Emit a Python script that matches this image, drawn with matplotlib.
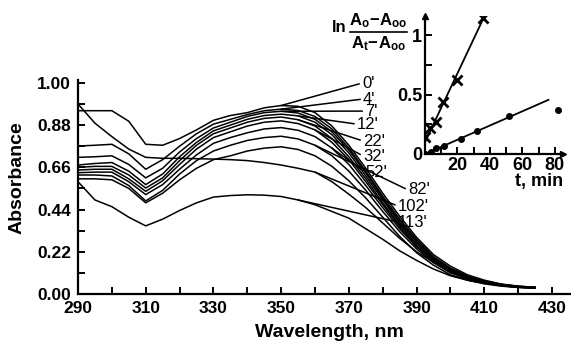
import numpy as np
import matplotlib
matplotlib.use('Agg')
import matplotlib.pyplot as plt
from matplotlib.lines import Line2D
from matplotlib.ticker import MultipleLocator, FixedLocator

plt.rcParams['font.family'] = ['Liberation Sans', 'DejaVu Sans']
plt.rcParams['mathtext.fontset'] = 'custom'
plt.rcParams['mathtext.rm'] = 'Liberation Sans:bold'
plt.rcParams['mathtext.it'] = 'Liberation Sans:bold'
plt.rcParams['mathtext.bf'] = 'Liberation Sans:bold'

# -- spectra (absorbance vs wavelength, nm)
wavelength = [290, 295, 300, 305, 310, 315, 320, 325, 330, 335, 340, 345, 350, 355,
              360, 365, 370, 375, 380, 385, 390, 395, 400, 405, 410, 415, 420, 425]

spec_a = [.955, .955, .955, .90, .78, .775, .81, .855, .905, .93, .945, .97, .982, .978,
          .945, .875, .775, .655, .525, .405, .295, .205, .145, .10, .072, .052, .041, .035]
spec_m1 = [.771, .775, .78, .73, .65, .70, .77, .835, .885, .91, .935, .955, .963, .956,
           .925, .86, .76, .64, .51, .39, .285, .195, .135, .095, .068, .05, .04, .035]
spec_m2 = [.712, .715, .72, .675, .605, .655, .74, .81, .865, .895, .925, .945, .952, .943,
           .91, .845, .75, .63, .50, .38, .275, .19, .13, .09, .065, .048, .038, .034]
spec_m3 = [.672, .68, .685, .64, .57, .625, .715, .79, .85, .88, .91, .93, .937, .928,
           .895, .83, .735, .615, .49, .37, .27, .185, .125, .088, .063, .047, .037, .033]
spec_m4 = [.66, .665, .665, .62, .552, .605, .695, .775, .835, .865, .895, .915, .922, .908,
           .875, .81, .715, .60, .475, .36, .26, .18, .12, .085, .06, .045, .036, .033]
spec_m5 = [.646, .65, .65, .60, .535, .59, .675, .755, .815, .845, .875, .895, .902, .888,
           .855, .79, .70, .585, .465, .35, .25, .175, .118, .083, .06, .045, .036, .032]
spec_m6 = [.632, .635, .635, .585, .518, .57, .65, .725, .785, .815, .84, .86, .867, .853,
           .82, .76, .675, .565, .45, .34, .245, .17, .115, .08, .058, .044, .035, .032]
spec_m7 = [.62, .62, .615, .565, .485, .54, .625, .695, .745, .775, .80, .815, .822, .808,
           .775, .72, .64, .54, .43, .325, .235, .163, .11, .078, .056, .043, .035, .031]
spec_m8 = [.60, .60, .595, .55, .475, .525, .595, .655, .70, .72, .745, .76, .767, .753,
           .72, .665, .59, .50, .40, .30, .215, .15, .10, .072, .053, .041, .034, .031]
spec_b = [.99, .89, .82, .755, .712, .707, .707, .705, .703, .70, .695, .685, .672, .655,
          .635, .585, .52, .45, .37, .29, .22, .165, .125, .09, .065, .05, .04, .034]
spec_c = [.585, .49, .455, .40, .355, .39, .435, .475, .505, .513, .517, .515, .508, .49,
          .465, .43, .395, .34, .285, .225, .175, .13, .095, .072, .056, .045, .036, .032]

spectra = [spec_a, spec_m1, spec_m2, spec_m3, spec_m4, spec_m5, spec_m6, spec_m7,
           spec_m8, spec_b, spec_c]

# -- curve labels (time, min) and the curve / wavelength each one points to
time_labels = ["0'", "4'", "7'", "12'", "22'", "32'", "52'", "82'", "102'", "113'"]
label_curve = [0, 1, 2, 3, 4, 5, 6, 7, 9, 10]
label_wl = [350, 350, 350, 355, 355, 360, 365, 360, 360, 355]
label_pos = [(373.9, 1.099), (374.2, 1.016), (374.8, 0.953), (372.4, 0.885),
             (374.2, 0.797), (374.2, 0.719), (374.8, 0.635), (387.5, 0.542),
             (384.5, 0.458), (384.5, 0.375)]

y_ticks = [0.0, 0.22, 0.44, 0.66, 0.88, 1.10]
y_ticklabels = ['0.00', '0.22', '0.44', '0.66', '0.88', '1.00']
x_ticks = [290, 310, 330, 350, 370, 390, 410, 430]

# -- inset: ln((A0-Ainf)/(At-Ainf)) vs t
t_cross = [0, 3, 7, 11, 20, 36]
ln_cross = [0.145, 0.216, 0.27, 0.44, 0.62, 1.14]
fit_cross_t = [0, 37]
fit_cross_v = [0.10, 1.17]

t_dot = [0, 4, 7, 12, 22, 32, 52, 82]
ln_dot = [0.0, 0.019, 0.048, 0.07, 0.124, 0.193, 0.319, 0.37]
fit_dot_t = [0, 76]
fit_dot_v = [0.0, 0.455]

W, H = 571, 344
fig = plt.figure(figsize=(W / 100, H / 100), dpi=100)

ax = fig.add_axes([78 / W, 1 - 294 / H, (W - 78) / W, 214 / H])
for s in spectra:
    ax.plot(wavelength, s, color='k', lw=1.1)

for lab, ci, wl, pos in zip(time_labels, label_curve, label_wl, label_pos):
    yv = spectra[ci][wavelength.index(wl)]
    ax.annotate(lab, xy=(wl, yv), xytext=pos, ha='left', va='center', fontsize=12,
                arrowprops=dict(arrowstyle='-', relpos=(0, 0.5), shrinkA=0, shrinkB=0,
                                lw=1.1, color='k'))

ax.set_xlim(290, 290 + (W - 78) / 3.386)
ax.set_ylim(0, 1.115)
ax.spines['top'].set_visible(False)
ax.spines['right'].set_visible(False)
for sp in ['left', 'bottom']:
    ax.spines[sp].set_linewidth(1.6)
ax.xaxis.set_major_locator(FixedLocator(x_ticks))
ax.xaxis.set_minor_locator(MultipleLocator(10))
ax.set_yticks(y_ticks)
ax.set_yticklabels(y_ticklabels)
ax.yaxis.set_minor_locator(MultipleLocator(0.11))
ax.tick_params(which='both', direction='in', width=1.4, length=5, labelsize=12.5)
ax.tick_params(axis='x', pad=5)
ax.tick_params(axis='y', pad=5)
for lbl in ax.get_xticklabels() + ax.get_yticklabels():
    lbl.set_fontweight('bold')
ax.set_xlabel('Wavelength, nm', fontsize=14, fontweight='bold')
ax.set_ylabel('Absorbance', fontsize=14, fontweight='bold')
ax.xaxis.set_label_coords(0.511, -0.138)
ax.yaxis.set_label_coords(-0.107, 0.542)

# -- inset
ax_in = fig.add_axes([425 / W, 1 - 154 / H, (563 - 425) / W, (154 - 16) / H])
ax_in.patch.set_alpha(0)
ax_in.plot(fit_cross_t, fit_cross_v, color='k', lw=1.3)
ax_in.plot(t_cross, ln_cross, 'x', color='k', ms=7, mew=2)
ax_in.plot(fit_dot_t, fit_dot_v, color='k', lw=1.3)
ax_in.plot(t_dot, ln_dot, 'o', color='k', ms=4)
ax_in.set_xlim(0, 85)
ax_in.set_ylim(0, 1.16)
ax_in.spines['top'].set_visible(False)
ax_in.spines['right'].set_visible(False)
for sp in ['left', 'bottom']:
    ax_in.spines[sp].set_linewidth(1.6)
ax_in.plot(1, 0, '>', color='k', ms=5, transform=ax_in.transAxes, clip_on=False)
ax_in.plot(0, 1, '^', color='k', ms=5, transform=ax_in.transAxes, clip_on=False)
ax_in.set_xticks([20, 40, 60, 80])
ax_in.xaxis.set_minor_locator(MultipleLocator(10))
ax_in.set_yticks([0, 0.5, 1])
ax_in.set_yticklabels(['0', '0.5', '1'])
ax_in.yaxis.set_minor_locator(MultipleLocator(0.25))
ax_in.tick_params(which='both', direction='in', width=1.4, length=5, labelsize=13, pad=2)
for lbl in ax_in.get_xticklabels() + ax_in.get_yticklabels():
    lbl.set_fontweight('bold')
ax_in.text(1.0, -0.2, 't, min', transform=ax_in.transAxes, ha='right', va='center',
           fontsize=13, fontweight='bold')

# inset y label: ln (A0 - Aoo)/(At - Aoo)
fig.text(339 / W, 1 - 27 / H, 'ln', ha='center', va='center', fontsize=12, fontweight='bold')
fig.text(378 / W, 1 - 21 / H, r'$A_o\!-\!A_{oo}$', ha='center', va='center', fontsize=12)
fig.text(378 / W, 1 - 44 / H, r'$A_t\!-\!A_{oo}$', ha='center', va='center', fontsize=12)
fig.add_artist(Line2D([350 / W, 407 / W], [1 - 32 / H, 1 - 32 / H], color='k', lw=1.2,
                      transform=fig.transFigure))

fig.savefig('out.png', dpi=100)
